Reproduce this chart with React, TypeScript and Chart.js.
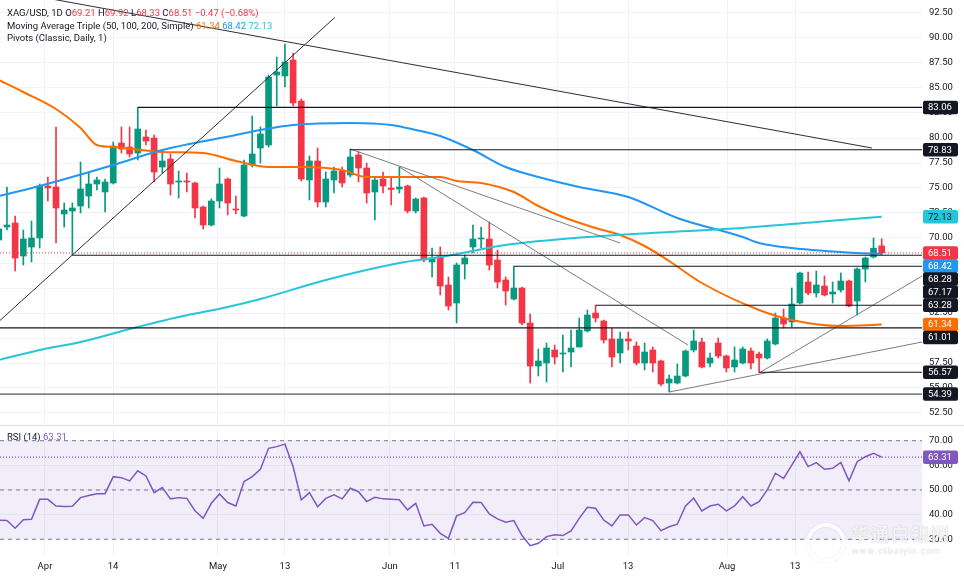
import React, { useEffect, useRef } from "react";
import { Chart, registerables } from "chart.js";

Chart.register(...registerables);

// ---------- data ----------
const opens = [69.8, 71.1, 71.5, 68.2, 69.1, 70.0, 75.2, 75.1, 72.4, 72.7,
  73.2, 74.2, 75.4, 74.6, 75.5, 79.5, 79.1, 78.5, 80.1, 80.0,
  77.1, 77.9, 75.6, 75.7, 75.5, 73.1, 71.3, 73.7, 75.9, 72.9,
  72.2, 77.3, 79.0, 79.3, 86.3, 86.2, 87.8, 83.7, 75.8, 77.7,
  73.6, 75.8, 76.7, 76.3, 78.3, 77.0, 74.6, 75.9, 75.0, 74.9,
  75.2, 72.7, 74.0, 67.6, 68.2, 65.3, 63.5, 67.4, 69.1, 69.9,
  69.9, 67.8, 65.8, 63.9, 65.0, 61.5, 57.2, 57.5, 58.8, 58.4,
  58.6, 59.1, 60.7, 62.5, 61.7, 59.9, 58.5, 59.9, 59.2, 57.5,
  58.8, 57.7, 55.5, 55.5, 56.2, 58.8, 59.6, 57.5, 59.5, 58.2,
  57.1, 57.5, 58.7, 58.4, 58.0, 59.4, 62.0, 61.6, 63.5, 65.6,
  64.5, 65.2, 64.4, 64.8, 65.7, 63.7, 66.9, 68.1, 69.21];
const highs = [71.3, 75.1, 72.2, 70.8, 71.7, 75.4, 76.1, 81.1, 73.5, 73.5,
  77.6, 76.5, 76.1, 75.9, 79.6, 81.1, 81.1, 83.06, 80.8, 80.3,
  78.8, 78.4, 76.7, 76.5, 75.6, 73.2, 73.9, 77.0, 76.0, 74.2,
  77.8, 82.2, 81.1, 86.3, 88.1, 89.4, 88.5, 83.9, 78.2, 79.0,
  76.6, 77.1, 77.1, 78.9, 78.6, 77.5, 76.0, 76.6, 76.1, 77.1,
  75.3, 74.0, 74.1, 69.0, 69.1, 66.1, 67.5, 68.3, 71.3, 71.1,
  71.6, 68.8, 66.1, 67.17, 65.1, 62.4, 58.9, 59.5, 59.3, 60.3,
  60.8, 62.0, 62.8, 63.28, 61.8, 61.0, 60.6, 60.6, 59.6, 59.5,
  59.1, 57.8, 56.3, 57.4, 58.8, 60.8, 60.0, 58.5, 60.0, 58.3,
  59.1, 59.1, 59.0, 58.6, 59.9, 62.5, 62.9, 65.0, 66.6, 66.6,
  66.7, 66.2, 65.6, 66.5, 65.8, 67.0, 68.1, 70.0, 69.92];
const lows = [69.2, 70.8, 66.7, 67.3, 67.6, 69.0, 73.7, 69.5, 71.1, 68.3,
  72.5, 73.0, 74.8, 72.6, 75.4, 78.5, 78.1, 77.8, 79.3, 75.6,
  76.5, 74.3, 74.0, 74.6, 72.0, 70.9, 71.2, 73.0, 72.3, 72.4,
  72.1, 77.1, 77.5, 79.1, 83.2, 85.1, 83.2, 75.7, 73.8, 73.1,
  73.1, 74.5, 75.1, 76.1, 75.6, 73.5, 71.8, 74.5, 73.3, 74.5,
  72.5, 72.5, 67.6, 66.1, 64.3, 62.8, 61.5, 65.9, 68.5, 69.0,
  66.8, 65.0, 63.3, 63.8, 61.3, 55.5, 56.2, 55.6, 57.4, 56.6,
  57.1, 59.1, 60.6, 61.6, 59.5, 57.1, 57.5, 58.8, 57.3, 56.8,
  56.6, 55.2, 54.6, 55.4, 56.1, 58.6, 57.0, 57.1, 58.0, 56.6,
  56.6, 57.4, 56.9, 56.57, 57.9, 59.3, 61.0, 61.1, 63.4, 64.3,
  64.1, 64.2, 63.5, 64.6, 63.1, 62.3, 65.6, 68.0, 68.33];
const closes = [70.9, 71.3, 68.0, 69.9, 70.0, 75.2, 75.0, 73.0, 72.8, 73.0,
  74.9, 75.4, 75.8, 75.6, 79.2, 78.9, 78.4, 80.9, 79.7, 76.6,
  77.7, 75.4, 75.7, 75.6, 73.0, 71.3, 73.7, 75.4, 73.5, 72.8,
  77.3, 78.4, 80.4, 86.1, 86.6, 87.6, 83.5, 75.9, 77.7, 73.6,
  75.9, 76.7, 75.5, 78.1, 77.0, 74.5, 75.8, 75.2, 74.85, 75.1,
  72.7, 73.9, 67.8, 68.0, 65.2, 63.2, 67.3, 68.0, 69.9, 70.0,
  67.3, 65.6, 64.7, 65.0, 61.5, 57.2, 57.7, 59.0, 58.1, 58.5,
  59.0, 60.8, 62.3, 62.0, 59.8, 58.1, 59.9, 59.7, 57.5, 58.6,
  57.5, 55.4, 55.9, 56.2, 58.7, 59.7, 57.1, 58.0, 58.2, 57.0,
  57.8, 58.9, 57.5, 58.0, 59.7, 62.0, 61.4, 63.4, 66.5, 64.5,
  65.3, 64.3, 64.6, 65.7, 63.2, 66.9, 68.0, 68.98, 68.51];

const rsi14 = [37.8, 37.6, 34.5, 37.9, 38.1, 46.2, 46.2, 43.5, 43.3, 43.4,
  46.9, 47.8, 48.5, 48.5, 55.4, 55.0, 53.7, 57.8, 55.7, 48.9,
  51.0, 46.4, 46.9, 46.6, 41.6, 38.5, 44.6, 48.4, 44.9, 43.5,
  53.4, 55.4, 58.4, 66.9, 67.6, 68.6, 59.5, 46.0, 48.9, 43.2,
  46.6, 48.0, 46.4, 50.7, 49.3, 45.3, 47.0, 46.4, 46.2, 46.0,
  41.9, 44.6, 35.4, 36.1, 32.4, 30.4, 39.5, 40.8, 45.0, 44.9,
  40.3, 38.3, 36.9, 37.6, 31.5, 27.4, 28.4, 31.1, 31.8, 31.5,
  33.4, 38.5, 43.0, 42.6, 37.8, 35.4, 39.9, 39.9, 35.8, 38.8,
  37.6, 33.5, 35.1, 36.1, 43.5, 46.7, 41.5, 43.5, 44.2, 41.5,
  43.5, 47.3, 43.5, 45.3, 50.0, 56.8, 54.7, 60.1, 65.5, 59.5,
  61.1, 58.4, 58.8, 61.2, 53.7, 61.5, 63.5, 64.9, 63.31];

const ma50Idx = [0, 3, 7, 10, 12, 14, 20, 25, 29, 33, 37, 42, 45, 49, 54, 56, 59, 63, 66, 69, 73, 76, 79, 82, 86, 93, 97, 103, 108];
const ma50Val = [85.8, 84.6, 82.9, 81.0, 79.3, 79.1, 78.6, 78.5, 77.7, 77.1, 77.1, 76.8, 76.1, 76.1, 76.1, 75.7, 75.5, 74.6, 73.2, 72.1, 71.0, 70.3, 69.2, 67.7, 65.5, 62.8, 61.8, 61.2, 61.34];
const ma100Idx = [0, 5, 14, 20, 29, 32, 36, 43, 48, 51, 54, 58, 62, 66, 71, 77, 83, 91, 93, 97, 105, 108];
const ma100Val = [74.2, 75.2, 77.3, 78.8, 80.3, 80.8, 81.3, 81.5, 81.3, 80.8, 80.2, 78.8, 77.1, 76.1, 75.1, 74.1, 72.0, 70.1, 69.5, 69.0, 68.5, 68.42];
const ma200Idx = [0, 5, 10, 16, 22, 28, 32, 40, 49, 54, 62, 72, 82, 91, 100, 108];
const ma200Val = [57.8, 58.8, 59.6, 60.9, 62.1, 63.1, 63.9, 65.8, 67.5, 68.1, 69.3, 70.1, 70.6, 71.0, 71.6, 72.13];

const pivotLevels = [83.06, 78.83, 68.28, 67.17, 63.28, 61.01, 56.57, 54.39];
const pivotFromIdx = [17, 43, 9, 63, 73, 0, 93, 0];

const trendFromIdx = [0, 0, 43, 49, 82, 93];
const trendFromVal = [61.65, 94.86, 78.9, 77.1, 54.6, 56.5];
const trendToIdx = [41.1, 106.8, 76, 84.3, 112.93, 112.93];
const trendToVal = [92.05, 79.0, 69.5, 59.3, 59.6, 66.2];

const xTickPos = [5.65, 13.97, 26.81, 35.0, 47.85, 55.8, 68.4, 76.97, 89.08, 97.4];
const xTickLabels = ["Apr", "14", "May", "13", "Jun", "11", "Jul", "13", "Aug", "13"];

const rsiTickVals = [30, 40, 50, 60, 70];
const rsiBands = [70, 50, 30];

// ---------- view / style ----------
const X_MIN = 0.147;
const X_MAX = 112.93;
const PRICE_MIN = 51.4;
const PRICE_MAX = 93.8;
const RSI_MIN = 23.22;
const RSI_MAX = 75.15;

const FONT = "Roboto";
const FS = 9.5;
const TXT = "#131722";
const GRID = "#f0f3fa";
const UP = "#089981";
const DOWN = "#F23645";
const C50 = "#FF6D00";
const C100 = "#2196F3";
const C200 = "#26C6DA";
const RSI_C = "#7E57C2";
const trendStyles = [
  { c: "#2a2e39", w: 1 },
  { c: "#2a2e39", w: 1 },
  { c: "#6a6d78", w: 0.9 },
  { c: "#6a6d78", w: 0.9 },
  { c: "#6a6d78", w: 0.9 },
  { c: "#6a6d78", w: 0.9 },
];

const fmt = (v: number) => (v < 0 ? "\u2212" : "") + Math.abs(v).toFixed(2);

const zeroPad = (s: any) => {
  s.paddingTop = 0;
  s.paddingBottom = 0;
  s.paddingLeft = 0;
  s.paddingRight = 0;
};

function lineDs(points: { x: number; y: number }[], color: string, width: number, dash: number[] = [], extra: any = {}) {
  return {
    type: "line",
    data: points,
    borderColor: color,
    borderWidth: width,
    borderDash: dash,
    pointRadius: 0,
    fill: false,
    tension: 0,
    order: 0,
    ...extra,
  };
}

function boxPlugin(getItems: () => { value: number; bg: string; fg: string }[]) {
  return {
    id: "axisBoxes",
    afterDraw(chart: any) {
      const { ctx, chartArea } = chart;
      const ys = chart.scales.y;
      const items = getItems()
        .map((it) => ({ ...it, py: ys.getPixelForValue(it.value) }))
        .sort((a, b) => a.py - b.py);
      let prev = -Infinity;
      ctx.save();
      ctx.font = `${FS}px ${FONT}`;
      ctx.textBaseline = "middle";
      ctx.textAlign = "left";
      for (const it of items) {
        const y = Math.max(it.py, prev + 13);
        prev = y;
        const x0 = chartArea.right + 1;
        ctx.fillStyle = it.bg;
        ctx.beginPath();
        if (ctx.roundRect) ctx.roundRect(x0, y - 6.75, 35, 13.5, 2);
        else ctx.rect(x0, y - 6.75, 35, 13.5);
        ctx.fill();
        ctx.fillStyle = it.fg;
        ctx.fillText(it.value.toFixed(2), x0 + 5, y + 0.5);
      }
      ctx.restore();
    },
  };
}

function mainConfig(): any {
  const last = closes.length - 1;
  const colors = closes.map((c, i) => (c >= opens[i] ? UP : DOWN));
  const datasets: any[] = [];
  pivotLevels.forEach((lv, k) => {
    datasets.push(
      lineDs([{ x: pivotFromIdx[k], y: lv }, { x: X_MAX, y: lv }], k === 7 ? "#50535e" : "#131722", 1.1)
    );
  });
  trendFromIdx.forEach((f, k) => {
    datasets.push(
      lineDs([{ x: f, y: trendFromVal[k] }, { x: trendToIdx[k], y: trendToVal[k] }], trendStyles[k].c, trendStyles[k].w)
    );
  });
  const maLine = (idx: number[], val: number[], color: string) =>
    lineDs(idx.map((x, i) => ({ x, y: val[i] })), color, 2, [], { cubicInterpolationMode: "monotone" });
  datasets.push(maLine(ma200Idx, ma200Val, C200));
  datasets.push(maLine(ma100Idx, ma100Val, C100));
  datasets.push(maLine(ma50Idx, ma50Val, C50));
  datasets.push(lineDs([{ x: X_MIN, y: closes[last] }, { x: X_MAX, y: closes[last] }], DOWN, 1, [1, 2]));
  datasets.push({
    type: "bar",
    data: closes.map((c, i) => ({ x: i, y: [opens[i], c] })),
    backgroundColor: colors,
    borderWidth: 0,
    barThickness: 6,
    minBarLength: 1,
    grouped: false,
    order: 1,
  });
  datasets.push({
    type: "bar",
    data: closes.map((c, i) => ({ x: i, y: [lows[i], highs[i]] })),
    backgroundColor: colors,
    borderWidth: 0,
    barThickness: 1,
    grouped: false,
    order: 2,
  });

  const items = () => {
    const arr = pivotLevels.map((v) => ({ value: v, bg: "#131722", fg: "#ffffff" }));
    arr.push({ value: ma200Val[ma200Val.length - 1], bg: C200, fg: "#131722" });
    arr.push({ value: closes[last], bg: DOWN, fg: "#ffffff" });
    arr.push({ value: ma100Val[ma100Val.length - 1], bg: C100, fg: "#ffffff" });
    arr.push({ value: ma50Val[ma50Val.length - 1], bg: C50, fg: "#ffffff" });
    return arr;
  };

  return {
    type: "bar",
    data: { datasets },
    options: {
      responsive: false,
      animation: false,
      events: [],
      layout: { padding: 0 },
      plugins: { legend: { display: false }, tooltip: { enabled: false } },
      scales: {
        x: {
          type: "linear",
          min: X_MIN,
          max: X_MAX,
          offset: false,
          grid: { color: GRID, drawTicks: false, offset: false },
          border: { display: false },
          ticks: { display: false },
          afterBuildTicks: (s: any) => {
            s.ticks = xTickPos.map((v) => ({ value: v }));
          },
          afterFit: (s: any) => {
            s.height = 0;
            zeroPad(s);
          },
        },
        y: {
          type: "linear",
          position: "right",
          min: PRICE_MIN,
          max: PRICE_MAX,
          beginAtZero: false,
          grid: { color: GRID, drawTicks: false },
          border: { display: false },
          ticks: {
            stepSize: 2.5,
            includeBounds: false,
            padding: 7,
            color: TXT,
            font: { family: FONT, size: FS },
            callback: (v: any) => Number(v).toFixed(2),
          },
          afterFit: (s: any) => {
            s.width = 42;
            zeroPad(s);
          },
        },
      },
    },
    plugins: [boxPlugin(items)],
  };
}

function rsiConfig(): any {
  const last = rsi14.length - 1;
  const datasets: any[] = [];
  rsiBands.forEach((b, k) => {
    datasets.push(
      lineDs([{ x: X_MIN, y: b }, { x: X_MAX, y: b }], "#787B86", 1, [4, 4], k === 0
        ? { fill: { value: rsiBands[2] }, backgroundColor: "rgba(126,87,194,0.1)", order: 3 }
        : { order: 3 })
    );
  });
  datasets.push(lineDs([{ x: X_MIN, y: rsi14[last] }, { x: X_MAX, y: rsi14[last] }], RSI_C, 1.3, [1, 2], { order: 2 }));
  datasets.push(lineDs(rsi14.map((v, i) => ({ x: i, y: v })), RSI_C, 1.5, [], { order: 0 }));

  const items = () => [{ value: rsi14[last], bg: RSI_C, fg: "#ffffff" }];

  const sep = {
    id: "sep",
    afterDraw(chart: any) {
      const { ctx } = chart;
      ctx.save();
      ctx.strokeStyle = "#e0e3eb";
      ctx.lineWidth = 1;
      ctx.beginPath();
      ctx.moveTo(0, 1.5);
      ctx.lineTo(chart.width, 1.5);
      ctx.stroke();
      ctx.restore();
    },
  };

  return {
    type: "line",
    data: { datasets },
    options: {
      responsive: false,
      animation: false,
      events: [],
      layout: { padding: { top: 4, left: 0, right: 0, bottom: 0 } },
      plugins: { legend: { display: false }, tooltip: { enabled: false } },
      scales: {
        x: {
          type: "linear",
          min: X_MIN,
          max: X_MAX,
          offset: false,
          grid: { color: GRID, drawTicks: false },
          border: { display: false },
          ticks: {
            autoSkip: false,
            maxRotation: 0,
            padding: 5,
            color: TXT,
            font: { family: FONT, size: FS },
            callback: (_v: any, i: number) => xTickLabels[i],
          },
          afterBuildTicks: (s: any) => {
            s.ticks = xTickPos.map((v) => ({ value: v }));
          },
          afterFit: (s: any) => {
            s.height = 22;
            zeroPad(s);
          },
        },
        y: {
          type: "linear",
          position: "right",
          min: RSI_MIN,
          max: RSI_MAX,
          grid: { color: GRID, drawTicks: false },
          border: { display: false },
          ticks: {
            padding: 7,
            color: TXT,
            font: { family: FONT, size: FS },
            callback: (v: any) => Number(v).toFixed(2),
          },
          afterBuildTicks: (s: any) => {
            s.ticks = rsiTickVals.map((v) => ({ value: v }));
          },
          afterFit: (s: any) => {
            s.width = 42;
            zeroPad(s);
          },
        },
      },
    },
    plugins: [boxPlugin(items), sep],
  };
}

export default function App() {
  const mainRef = useRef<HTMLCanvasElement | null>(null);
  const rsiRef = useRef<HTMLCanvasElement | null>(null);

  useEffect(() => {
    Chart.defaults.font.family = FONT;
    const main = new Chart(mainRef.current as HTMLCanvasElement, mainConfig());
    const rsi = new Chart(rsiRef.current as HTMLCanvasElement, rsiConfig());
    return () => {
      main.destroy();
      rsi.destroy();
    };
  }, []);

  const last = closes.length - 1;
  const chg = closes[last] - closes[last - 1];
  const pct = (chg / closes[last - 1]) * 100;
  const legendStyle: React.CSSProperties = {
    position: "absolute",
    left: 7,
    top: 7,
    font: `${FS}px ${FONT}`,
    lineHeight: "12.5px",
    color: TXT,
    whiteSpace: "nowrap",
    pointerEvents: "none",
  };
  const red = { color: DOWN };

  return (
    <div
      style={{
        position: "fixed",
        left: 0,
        top: 0,
        width: 964,
        height: 578,
        background: "#ffffff",
        overflow: "hidden",
        fontFamily: FONT,
      }}
    >
      <canvas ref={mainRef} width={964} height={424} style={{ position: "absolute", left: 0, top: 0 }} />
      <canvas ref={rsiRef} width={964} height={154} style={{ position: "absolute", left: 0, top: 424 }} />

      <div style={legendStyle}>
        <div>
          XAG/USD, 1D{"  "}O<span style={red}>{opens[last].toFixed(2)}</span> H
          <span style={red}>{highs[last].toFixed(2)}</span> L<span style={red}>{lows[last].toFixed(2)}</span> C
          <span style={red}>{closes[last].toFixed(2)}</span>{" "}
          <span style={red}>
            {fmt(chg)} ({fmt(pct)}%)
          </span>
        </div>
        <div>
          Moving Average Triple (50, 100, 200, Simple){" "}
          <span style={{ color: C50 }}>{ma50Val[ma50Val.length - 1].toFixed(2)}</span>{" "}
          <span style={{ color: C100 }}>{ma100Val[ma100Val.length - 1].toFixed(2)}</span>{" "}
          <span style={{ color: C200 }}>{ma200Val[ma200Val.length - 1].toFixed(2)}</span>
        </div>
        <div>Pivots (Classic, Daily, 1)</div>
      </div>

      <div style={{ ...legendStyle, top: 431 }}>
        RSI (14) <span style={{ color: RSI_C }}>{rsi14[rsi14.length - 1].toFixed(2)}</span>
      </div>

      {/* watermark */}
      <div
        style={{
          position: "absolute",
          left: 806,
          top: 523,
          width: 32,
          height: 32,
          borderRadius: "50%",
          border: "4px solid rgba(255,255,255,0.85)",
          boxShadow: "0 0 1px rgba(0,0,0,0.25), inset 0 0 1px rgba(0,0,0,0.25)",
          pointerEvents: "none",
        }}
      />
      <div
        style={{
          position: "absolute",
          left: 851,
          top: 520,
          font: `bold 18px "Noto Sans CJK SC"`,
          letterSpacing: 2,
          color: "rgba(255,255,255,0.85)",
          textShadow: "0 0 1px rgba(0,0,0,0.3)",
          whiteSpace: "nowrap",
          pointerEvents: "none",
        }}
      >
        华通白银网
      </div>
      <div
        style={{
          position: "absolute",
          left: 852,
          top: 546,
          font: `9px ${FONT}`,
          letterSpacing: 1,
          color: "rgba(255,255,255,0.9)",
          textShadow: "0 0 1px rgba(0,0,0,0.3)",
          whiteSpace: "nowrap",
          pointerEvents: "none",
        }}
      >
        www.ctbaiyin.com
      </div>
    </div>
  );
}
